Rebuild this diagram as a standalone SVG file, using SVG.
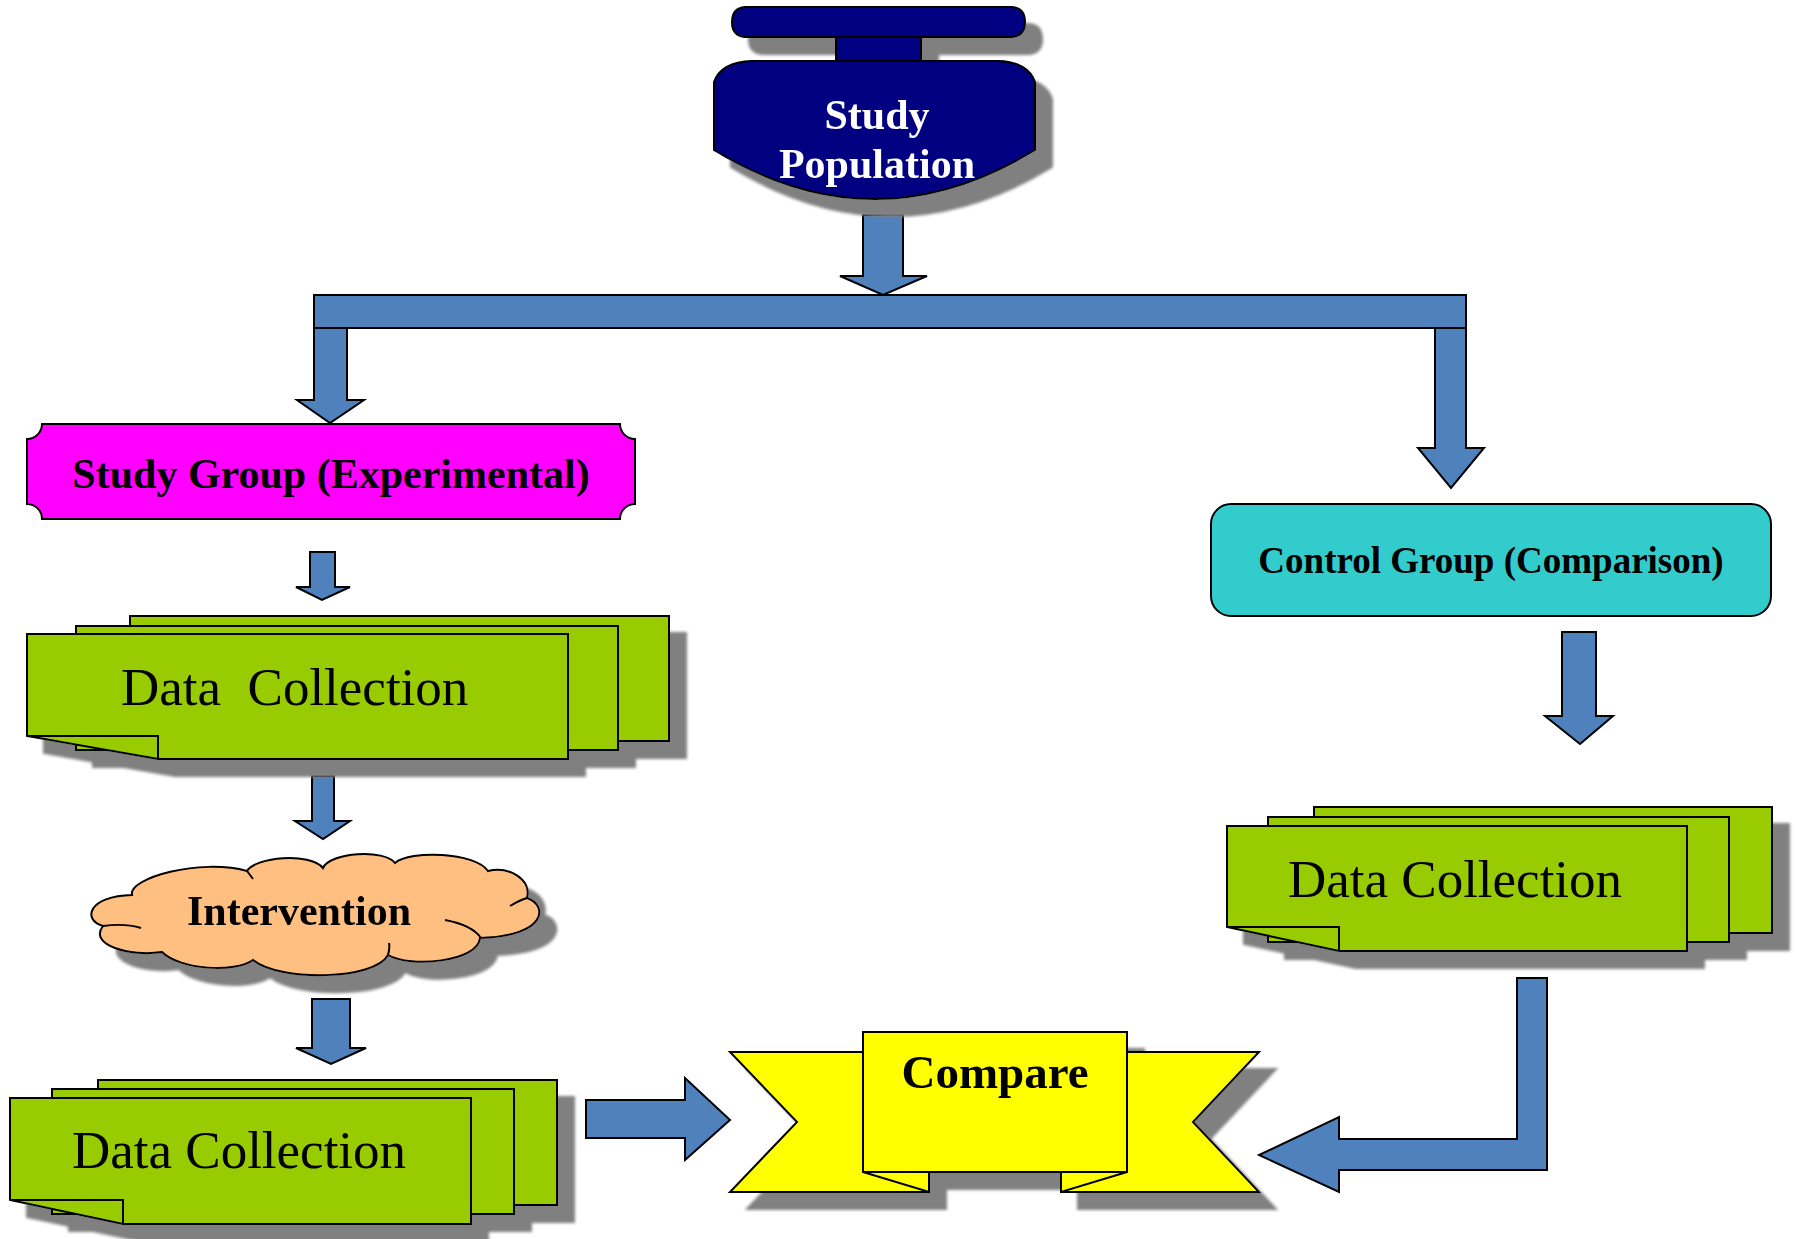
<svg xmlns="http://www.w3.org/2000/svg" width="1795" height="1239" viewBox="0 0 1795 1239">
<defs>
<style>
.arr{fill:#4F81BD;stroke:#000;stroke-width:2;stroke-linejoin:miter}
.ln{stroke:#000;stroke-width:2;stroke-linejoin:miter}
.pg{fill:#99CC00;stroke:#000;stroke-width:2}
.fold{fill:none;stroke:#000;stroke-width:2}
.ser{font-family:"Liberation Serif","Times New Roman",serif}
.b{font-weight:bold}
.dc{font-size:53px;fill:#000}
</style>
<filter id="sh" x="-5%" y="-10%" width="120%" height="160%">
<feOffset in="SourceAlpha" dx="17" dy="17" result="o"/>
<feGaussianBlur in="o" stdDeviation="1.5" result="b"/>
<feFlood flood-color="#808080"/>
<feComposite in2="b" operator="in" result="s"/>
<feMerge><feMergeNode in="s"/><feMergeNode in="SourceGraphic"/></feMerge>
</filter>
</defs>
<rect width="1795" height="1239" fill="#fff"/>

<g id="connectors">
<polygon class="arr" points="863,215 903,215 903,276 927,276 883,295 840,276 863,276"/>
<polygon class="arr" points="314,328 347,328 347,400 364,400 330,423 297,400 314,400"/>
<polygon class="arr" points="1435,328 1466,328 1466,448 1484,448 1451,488 1418,448 1435,448"/>
<rect class="arr" x="314" y="295" width="1152" height="33"/>
<polygon class="arr" points="310,552 335,552 335,587 350,587 322,600 296,587 310,587"/>
<polygon class="arr" points="312,776 334,776 334,821 350,821 323,839 295,821 312,821"/>
<polygon class="arr" points="312,999 350,999 350,1048 366,1048 331,1064 296,1048 312,1048"/>
<polygon class="arr" points="586,1100 685,1100 685,1078 730,1120 685,1160 685,1138 586,1138"/>
<polygon class="arr" points="1562,632 1596,632 1596,716 1613,716 1580,744 1545,716 1562,716"/>
<polygon class="arr" points="1517,978 1547,978 1547,1170 1339,1170 1339,1192 1259,1155 1339,1117 1339,1139 1517,1139"/>
</g>

<g id="study-population" filter="url(#sh)">
<path class="ln" fill="#000080" d="M745,7 H1012 Q1025,8 1025,22 Q1025,36 1012,37 H745 Q732,36 732,22 Q732,8 745,7 Z"/>
<rect class="ln" fill="#000080" x="836" y="37" width="85" height="24"/>
<path class="ln" fill="#000080" d="M752,61 L998,61 Q1028,62 1035,82 L1035,150 Q875,248 714,150 L714,82 Q721,62 752,61 Z"/>
<text class="ser b" x="877" y="129" font-size="42" fill="#fff" text-anchor="middle">Study</text>
<text class="ser b" x="877" y="178" font-size="42" fill="#fff" text-anchor="middle">Population</text>
</g>

<g id="study-group">
<path class="ln" fill="#FF00FF" d="M42,424 L620,424 A15,15 0 0 0 635,439 L635,504 A15,15 0 0 0 620,519 L42,519 A15,15 0 0 0 27,504 L27,439 A15,15 0 0 0 42,424 Z"/>
<text class="ser b" x="331" y="488" font-size="42" fill="#000" text-anchor="middle">Study Group (Experimental)</text>
</g>

<g id="control-group">
<rect class="ln" fill="#33CCCC" x="1211" y="504" width="560" height="112" rx="20" ry="20"/>
<text class="ser b" x="1491" y="573" font-size="37" fill="#000" text-anchor="middle">Control Group (Comparison)</text>
</g>

<g id="data-collection-1" filter="url(#sh)">
<rect class="pg" x="130" y="616" width="539" height="125"/>
<rect class="pg" x="76" y="626" width="542" height="124"/>
<path class="pg" d="M27,634 H568 V759 H158 L27,736 Z"/>
<path class="fold" d="M27,736 H158 V759"/>
<text class="ser dc" x="121" y="705" xml:space="preserve">Data  Collection</text>
</g>

<g id="intervention" filter="url(#sh)">
<path class="ln" fill="#FFBF80" d="M132,895 C128,878 200,858 247,871 C255,857 310,852 323,868 C330,852 385,849 395,863 C410,850 475,852 488,871 C510,866 532,880 527,898 C548,905 548,936 480,938 C478,962 410,968 388,955 C375,980 280,982 253,960 C235,973 180,970 162,952 C130,957 88,945 103,926 C82,920 88,896 132,895 Z"/>
<path class="fold" d="M103,926 Q125,923 141,928 M510,906 Q520,900 527,898 M445,920 Q472,925 481,938 M247,871 Q250,875 253,879 M388,955 Q390,948 389,943"/>
<text class="ser b" x="299" y="925" font-size="42" fill="#000" text-anchor="middle">Intervention</text>
</g>

<g id="data-collection-2" filter="url(#sh)">
<rect class="pg" x="98" y="1080" width="459" height="125"/>
<rect class="pg" x="52" y="1089" width="462" height="125"/>
<path class="pg" d="M10,1098 H471 V1224 H123 L10,1200 Z"/>
<path class="fold" d="M10,1200 H123 V1224"/>
<text class="ser dc" x="72" y="1168">Data Collection</text>
</g>

<g id="data-collection-3" filter="url(#sh)">
<rect class="pg" x="1314" y="807" width="458" height="126"/>
<rect class="pg" x="1268" y="817" width="461" height="125"/>
<path class="pg" d="M1227,826 H1687 V951 H1339 L1227,927 Z"/>
<path class="fold" d="M1227,927 H1339 V951"/>
<text class="ser dc" x="1288" y="897">Data Collection</text>
</g>

<g id="compare" filter="url(#sh)">
<path class="ln" fill="#FFFF00" d="M730,1052 H929 V1192 H730 L797,1122 Z"/>
<path class="ln" fill="#FFFF00" d="M1259,1052 H1061 V1192 H1259 L1193,1122 Z"/>
<path class="ln" fill="#FFFF00" d="M863,1172 H929 V1192 Z"/>
<path class="ln" fill="#FFFF00" d="M1127,1172 H1061 V1192 Z"/>
<rect class="ln" fill="#FFFF00" x="863" y="1032" width="264" height="140"/>
<text class="ser b" x="995" y="1088" font-size="47" fill="#000" text-anchor="middle">Compare</text>
</g>
</svg>
